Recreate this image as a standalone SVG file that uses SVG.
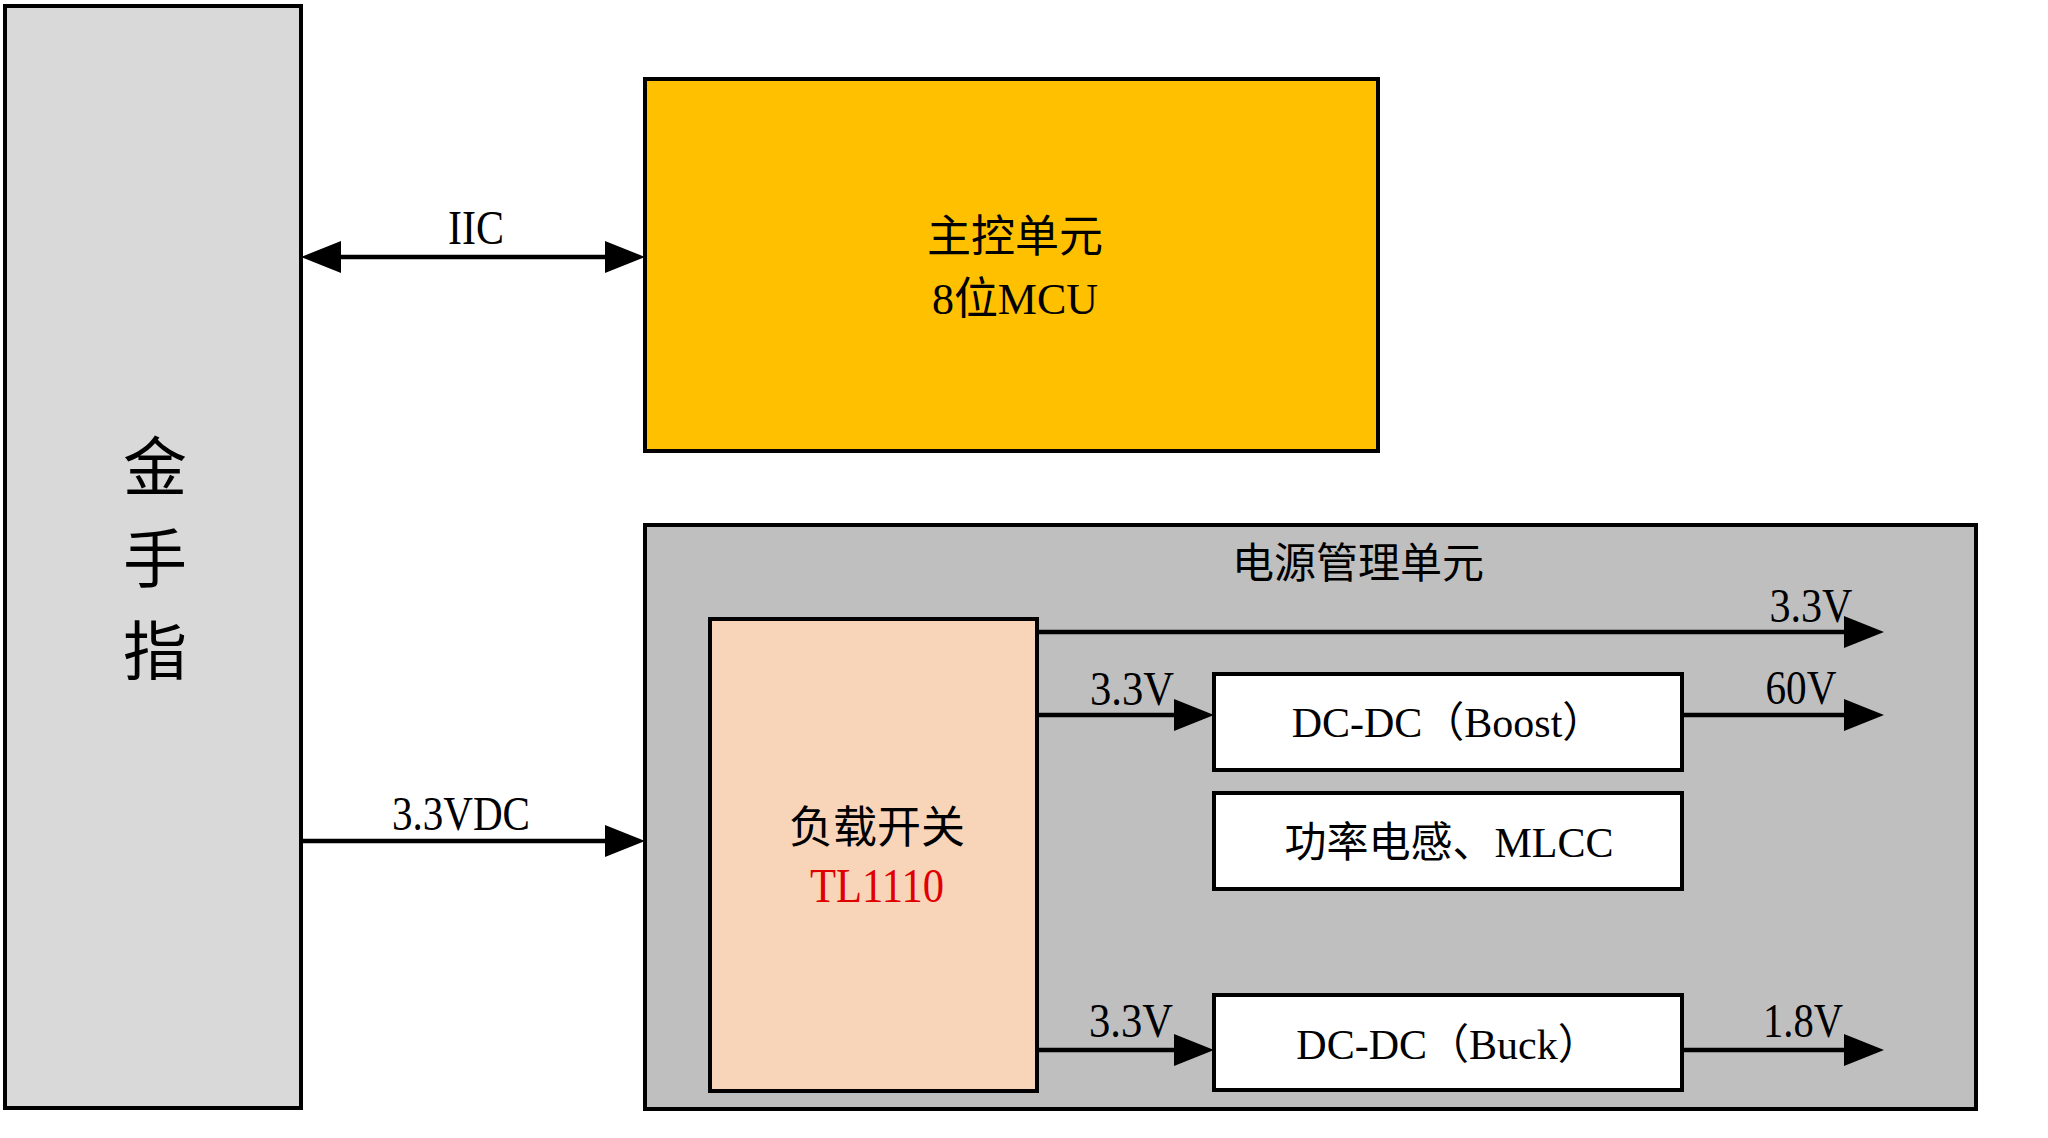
<svg xmlns="http://www.w3.org/2000/svg" width="2048" height="1138" viewBox="0 0 2048 1138">
<style>
.box{stroke:#000;stroke-width:4}
.c{font-family:"Liberation Serif","Noto Sans CJK SC",sans-serif;font-size:44px;fill:#000;text-anchor:middle;dominant-baseline:central}
.s{font-size:42px}
.lbl{font-family:"Liberation Serif",serif;font-size:48px;fill:#000;text-anchor:middle}
.wire{stroke:#000;stroke-width:4.5;fill:none}
</style>
<defs>
<marker id="ah" markerUnits="userSpaceOnUse" markerWidth="40" markerHeight="32" refX="20" refY="16" orient="auto-start-reverse" viewBox="0 0 40 32">
<path d="M0,0 L40,16 L0,32 Z" fill="#000"/>
</marker>
</defs>
<rect width="2048" height="1138" fill="#fff"/>

<g id="golden-finger">
<rect class="box" x="5" y="6" width="296" height="1102" fill="#d9d9d9"/>
<text class="c" x="155" y="468" style="font-size:64px">金</text>
<text class="c" x="155" y="560" style="font-size:64px">手</text>
<text class="c" x="155" y="652" style="font-size:64px">指</text>
</g>

<g id="mcu">
<rect class="box" x="645" y="79" width="733" height="372" fill="#ffc000"/>
<text class="c" x="1015" y="237">主控单元</text>
<text class="c" x="1015" y="299">8位MCU</text>
</g>

<g id="power-unit">
<rect class="box" x="645" y="525" width="1331" height="584" fill="#bfbfbf"/>
<text class="c" x="1358" y="564" style="font-size:42px">电源管理单元</text>
</g>

<g id="load-switch">
<rect class="box" x="710" y="619" width="327" height="472" fill="#f8d5b8"/>
<text class="c" x="877" y="828">负载开关</text>
<text class="lbl" x="877" y="902" style="fill:#e00000" textLength="134" lengthAdjust="spacingAndGlyphs">TL1110</text>
</g>

<g id="boost">
<rect class="box" x="1214" y="674" width="468" height="96" fill="#fff"/>
<text class="c s" x="1448" y="723">DC-DC（Boost）</text>
</g>

<g id="passives">
<rect class="box" x="1214" y="793" width="468" height="96" fill="#fff"/>
<text class="c s" x="1449" y="843">功率电感、MLCC</text>
</g>

<g id="buck">
<rect class="box" x="1214" y="995" width="468" height="95" fill="#fff"/>
<text class="c s" x="1448" y="1045">DC-DC（Buck）</text>
</g>

<g id="connectors">
<line class="wire" x1="321" y1="257" x2="625" y2="257" marker-start="url(#ah)" marker-end="url(#ah)"/>
<text class="lbl" x="476" y="244" textLength="56" lengthAdjust="spacingAndGlyphs">IIC</text>
<line class="wire" x1="301" y1="841" x2="625" y2="841" marker-end="url(#ah)"/>
<text class="lbl" x="461" y="830" textLength="138" lengthAdjust="spacingAndGlyphs">3.3VDC</text>
<line class="wire" x1="1037" y1="632" x2="1864" y2="632" marker-end="url(#ah)"/>
<text class="lbl" x="1811" y="622" textLength="83" lengthAdjust="spacingAndGlyphs">3.3V</text>
<line class="wire" x1="1037" y1="715" x2="1194" y2="715" marker-end="url(#ah)"/>
<text class="lbl" x="1132" y="705" textLength="84" lengthAdjust="spacingAndGlyphs">3.3V</text>
<line class="wire" x1="1682" y1="715" x2="1864" y2="715" marker-end="url(#ah)"/>
<text class="lbl" x="1801" y="704" textLength="71" lengthAdjust="spacingAndGlyphs">60V</text>
<line class="wire" x1="1037" y1="1050" x2="1194" y2="1050" marker-end="url(#ah)"/>
<text class="lbl" x="1131" y="1037" textLength="84" lengthAdjust="spacingAndGlyphs">3.3V</text>
<line class="wire" x1="1682" y1="1050" x2="1864" y2="1050" marker-end="url(#ah)"/>
<text class="lbl" x="1803" y="1037" textLength="80" lengthAdjust="spacingAndGlyphs">1.8V</text>
</g>
</svg>
